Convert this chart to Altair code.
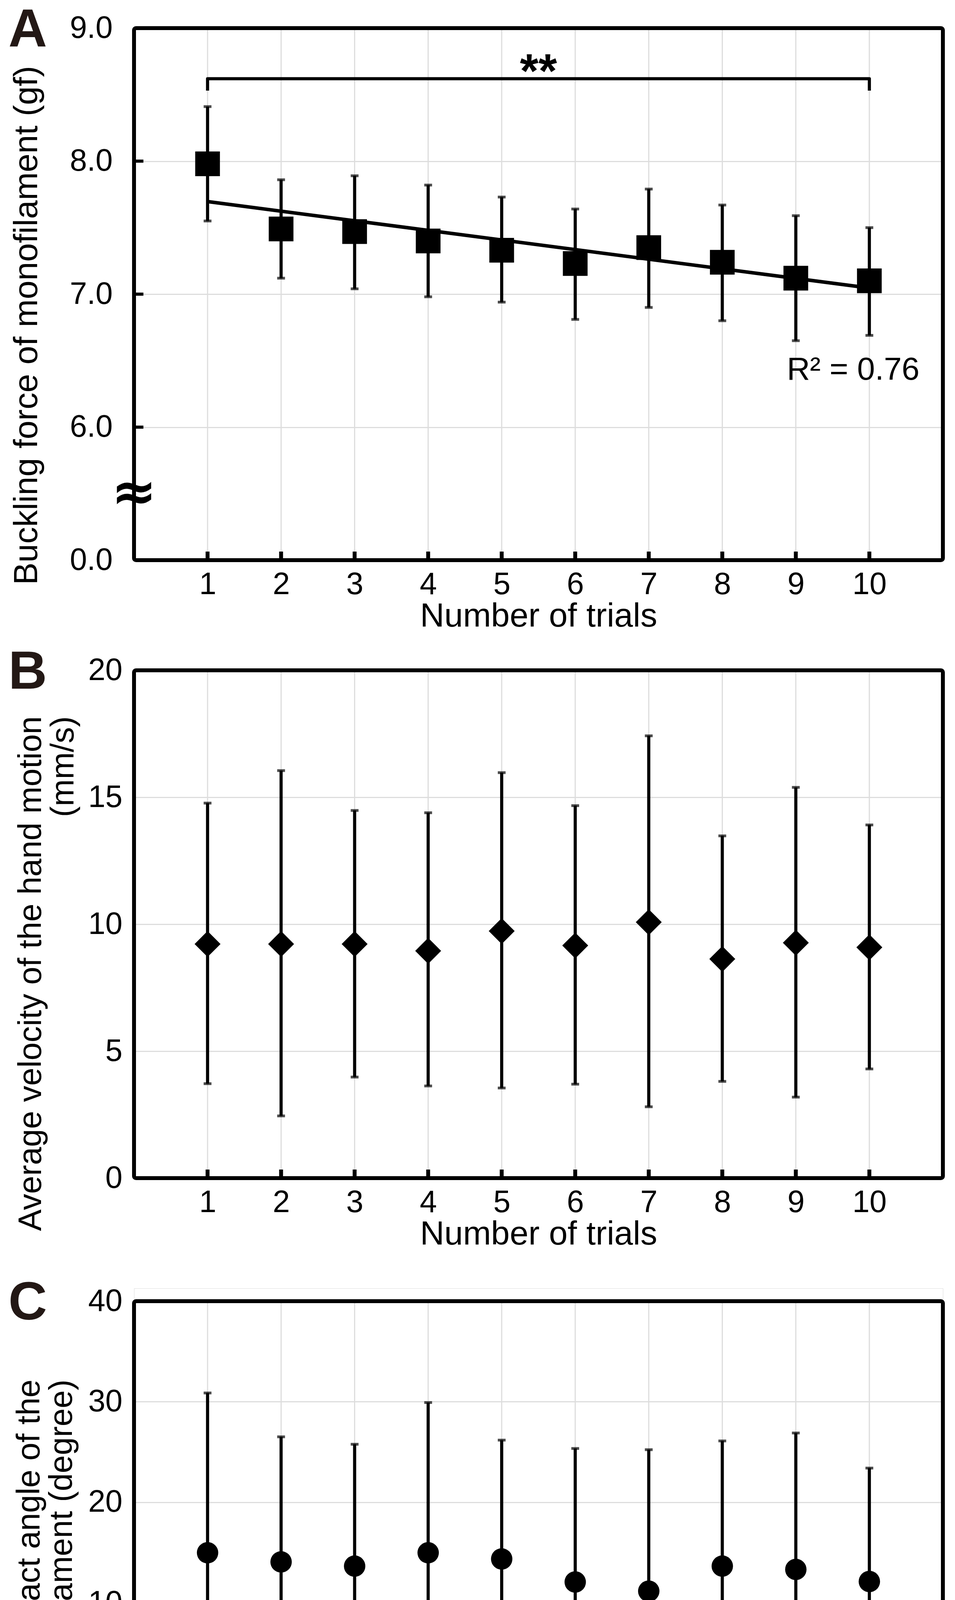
import altair as alt
import pandas as pd

# ---------------- data ----------------
trials = list(range(1, 11))

# A: buckling force of monofilament (gf): mean, upper and lower error-bar ends
force_mean = [7.98, 7.49, 7.47, 7.40, 7.33, 7.23, 7.35, 7.24, 7.12, 7.10]
force_hi = [8.41, 7.86, 7.89, 7.82, 7.73, 7.64, 7.79, 7.67, 7.59, 7.50]
force_lo = [7.55, 7.12, 7.04, 6.98, 6.94, 6.81, 6.90, 6.80, 6.65, 6.69]

# B: average velocity of the hand motion (mm/s)
vel_mean = [9.22, 9.22, 9.22, 8.95, 9.73, 9.16, 10.08, 8.63, 9.27, 9.09]
vel_hi = [14.77, 16.05, 14.48, 14.39, 15.97, 14.67, 17.42, 13.48, 15.39, 13.91]
vel_lo = [3.72, 2.45, 3.98, 3.63, 3.55, 3.70, 2.81, 3.81, 3.19, 4.30]

# C: average contact angle of the monofilament (degree)
ang_mean = [14.98, 14.07, 13.65, 14.98, 14.36, 12.07, 11.16, 13.65, 13.32, 12.12]
ang_hi = [30.87, 26.51, 25.77, 29.92, 26.18, 25.35, 25.23, 26.10, 26.89, 23.40]
ang_lo = [-0.58, 1.74, 1.74, 0.37, 2.74, -1.16, -2.74, 1.29, -0.29, 0.95]

# broken axis of A: position 0 -> "0.0", positions 1..4 -> 6.0 .. 9.0
A_ticks = [0, 1, 2, 3, 4]
A_inner_ticks = [1, 2, 3]
A_shift = 5.0
B_ticks = [0, 5, 10, 15, 20]
C_ticks = [-10, 0, 10, 20, 30, 40]

# annotations of A
bracket_x = [1, 1, 10, 10]
bracket_y = [8.53, 8.62, 8.62, 8.53]
star_x, star_y = 5.5, 8.62
r2_label, r2_x, r2_y = "R\u00b2 = 0.76", 9.78, 6.43
break_pos = 0.5

foot_parts = ["Tukey-Kramer multiple comparison test. (**)", "p", "< 0.01, and (*)", "p", "< 0.05"]
foot_em = [0, 19.671, 20.505, 27.148, 27.982]
foot_italic = [False, True, False, True, False]

# ---------------- styling ----------------
W = 2070
HA, HB = 1362, 1300
C_TOP = 33            # blank strip above the C frame (makes the B->C gap larger)
HC = C_TOP + 1287
SPACING = 282
FONT = "Liberation Sans, Arial, Helvetica, sans-serif"
GRID = "#dddddd"
INK = "#231815"
LBL = 79
TTL = 86
TTL2 = 83

xs = alt.Scale(domain=[0, 11], nice=False, zero=False)

XAX = alt.Axis(values=trials, title="Number of trials", grid=False, ticks=False, tickSize=0,
               domain=False, labelFont=FONT, labelFontSize=LBL, labelColor="black",
               labelPadding=24, labelFlush=False, labelOverlap=False, labelAngle=0,
               titleFont=FONT, titleFontSize=TTL, titleFontWeight="normal", titleColor="black",
               titleX=W / 2, titleY=143, titleAlign="center", titleBaseline="middle")


def yaxis(values, title, label_expr, pad, title_x, title_y, tsize):
    return alt.Axis(values=values, title=title, labelExpr=label_expr, grid=True, gridColor=GRID,
                    gridWidth=3, ticks=False, tickSize=0, domain=False, labelFont=FONT,
                    labelFontSize=LBL, labelColor="black", labelPadding=pad, labelFlush=False,
                    labelOverlap=False, labelBaseline="middle", titleFont=FONT,
                    titleFontSize=tsize, titleFontWeight="normal", titleColor="black",
                    titleAngle=270, titleAlign="right", titleBaseline="bottom",
                    titleX=title_x, titleY=title_y, titleLineHeight=tsize)


def X(field):
    return alt.X(f"{field}:Q", scale=xs, axis=XAX)


def one_row():
    return pd.DataFrame({"t": [0]})


def vgrid(top, H):
    return alt.Chart(pd.DataFrame({"trial": trials})).mark_rule(
        color=GRID, strokeWidth=3
    ).encode(x=X("trial"), y=alt.value(top), y2=alt.value(H))


def frame(top, H):
    return alt.Chart(one_row()).mark_rect(
        fillOpacity=0, stroke="black", strokeWidth=10, cornerRadius=5
    ).encode(x=alt.value(0), x2=alt.value(W), y=alt.value(top), y2=alt.value(H))


def letter(ch, top):
    return alt.Chart(pd.DataFrame({"t": [ch]})).mark_text(
        font=FONT, fontSize=137, fontWeight="bold", color=INK, align="center",
        baseline="middle", dy=6
    ).encode(text="t:N", x=alt.value(-272), y=alt.value(top))


def xticks(H):
    return alt.Chart(pd.DataFrame({"trial": trials})).mark_rule(
        color="black", strokeWidth=10
    ).encode(x=X("trial"), y=alt.value(H), y2=alt.value(H - 22))


def errorbars(base, Y, lo, hi):
    bars = base.mark_rule(color="black", strokeWidth=8).encode(
        x=X("trial"), y=Y(lo), y2=f"{hi}:Q")
    cap_lo = base.mark_tick(orient="horizontal", size=20, thickness=7, color="black").encode(
        x=X("trial"), y=Y(lo))
    cap_hi = base.mark_tick(orient="horizontal", size=20, thickness=7, color="black").encode(
        x=X("trial"), y=Y(hi))
    return [bars, cap_lo, cap_hi]


# ---------------- panel A ----------------
dfA = pd.DataFrame({"trial": trials, "mean": force_mean, "lo": force_lo, "hi": force_hi})
baseA = alt.Chart(dfA).transform_calculate(
    m_t=f"datum.mean - {A_shift}", lo_t=f"datum.lo - {A_shift}", hi_t=f"datum.hi - {A_shift}"
)
ysA = alt.Scale(domain=[0, 4], nice=False, zero=False)
yaxA = yaxis(A_ticks, "Buckling force of monofilament (gf)",
             f"datum.value == 0 ? '0.0' : format(datum.value + {A_shift}, '.1f')",
             55, -231, 96, TTL)


def YA(field):
    return alt.Y(f"{field}:Q", scale=ysA, axis=yaxA)


regA = alt.Chart(dfA).transform_regression("trial", "mean", extent=[1, 10]).transform_calculate(
    m_t=f"datum.mean - {A_shift}"
).mark_line(color="black", strokeWidth=9).encode(x=X("trial"), y=YA("m_t"))

ptsA = baseA.mark_point(shape="square", filled=True, size=4000, color="black", opacity=1).encode(
    x=X("trial"), y=YA("m_t"))

bracketA = alt.Chart(pd.DataFrame({"bx": bracket_x, "by": bracket_y, "o": [0, 1, 2, 3]})).transform_calculate(
    by_t=f"datum.by - {A_shift}"
).mark_line(color="black", strokeWidth=8, strokeJoin="round").encode(
    x=X("bx"), y=YA("by_t"), order="o:Q")

starA = alt.Chart(pd.DataFrame({"sx": [star_x], "sy": [star_y - A_shift], "s": ["**"]})).mark_text(
    font=FONT, fontSize=122, fontWeight="bold", color="black", align="center",
    baseline="alphabetic", dy=22
).encode(x=X("sx"), y=YA("sy"), text="s:N")

r2A = alt.Chart(pd.DataFrame({"rx": [r2_x], "ry": [r2_y - A_shift], "s": [r2_label]})).mark_text(
    font=FONT, fontSize=82, color="black", align="center", baseline="middle"
).encode(x=X("rx"), y=YA("ry"), text="s:N")

breakA = alt.Chart(pd.DataFrame({"p": [break_pos], "s": ["\u2248"]})).mark_text(
    font="DejaVu Sans", fontSize=140, fontWeight="bold", color="black", align="center",
    baseline="middle"
).encode(x=alt.value(0), y=YA("p"), text="s:N")

yticksA = alt.Chart(pd.DataFrame({"v": A_inner_ticks})).mark_rule(color="black", strokeWidth=8).encode(
    y=YA("v"), x=alt.value(0), x2=alt.value(24))

panelA = alt.layer(
    vgrid(0, HA), *errorbars(baseA, YA, "lo_t", "hi_t"), regA, ptsA, bracketA, starA, r2A,
    frame(0, HA), xticks(HA), yticksA, breakA, letter("A", 0)
).properties(width=W, height=HA)

# ---------------- panel B ----------------
dfB = pd.DataFrame({"trial": trials, "mean": vel_mean, "lo": vel_lo, "hi": vel_hi})
baseB = alt.Chart(dfB)
ysB = alt.Scale(domain=[0, 20], nice=False, zero=False)
yaxB = yaxis(B_ticks, ["Average velocity of the hand motion", "(mm/s)"],
             "'' + datum.value", 30, -222, 117, TTL2)


def YB(field):
    return alt.Y(f"{field}:Q", scale=ysB, axis=yaxB)


ptsB = baseB.mark_point(shape="diamond", filled=True, size=4400, color="black", opacity=1).encode(
    x=X("trial"), y=YB("mean"))
panelB = alt.layer(
    vgrid(0, HB), *errorbars(baseB, YB, "lo", "hi"), ptsB, frame(0, HB), xticks(HB), letter("B", 0)
).properties(width=W, height=HB)

# ---------------- panel C ----------------
dfC = pd.DataFrame({"trial": trials, "mean": ang_mean, "lo": ang_lo, "hi": ang_hi})
baseC = alt.Chart(dfC)
ysC = alt.Scale(domain=[-10, 40], nice=False, zero=False, range=[HC, C_TOP])
yaxC = yaxis(C_ticks, ["Average contact angle of the", "monofilament (degree)"],
             "'' + datum.value", 30, -226, C_TOP + 200, TTL2)


def YC(field):
    return alt.Y(f"{field}:Q", scale=ysC, axis=yaxC)


ptsC = baseC.mark_circle(size=3000, color="black", opacity=1).encode(x=X("trial"), y=YC("mean"))

foot_layers = []
for txt, em, it in zip(foot_parts, foot_em, foot_italic):
    foot_layers.append(
        alt.Chart(pd.DataFrame({"s": [txt]})).mark_text(
            font=FONT, fontSize=77, color="black", align="left", baseline="alphabetic",
            fontStyle="italic" if it else "normal"
        ).encode(text="s:N", x=alt.value(-312 + em * 77), y=alt.value(HC + 250))
    )

panelC = alt.layer(
    vgrid(C_TOP, HC), *errorbars(baseC, YC, "lo", "hi"), ptsC, frame(C_TOP, HC),
    letter("C", C_TOP), *foot_layers
).properties(width=W, height=HC)

chart = alt.vconcat(panelA, panelB, panelC, spacing=SPACING, bounds="flush").properties(
    padding={"left": 13, "top": 0, "right": 10, "bottom": 10}
).configure_view(strokeWidth=0).configure(background="white")

chart.save("out.html", embed_options={"renderer": "svg", "actions": False})
